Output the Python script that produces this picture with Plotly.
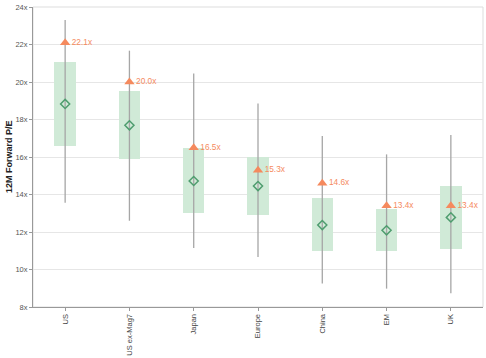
import plotly.graph_objects as go

categories = ["US", "US ex-Mag7", "Japan", "Europe", "China", "EM", "UK"]
whisker_low = [13.56, 12.6, 11.15, 10.67, 9.26, 8.98, 8.73]
box_low = [16.6, 15.91, 13.01, 12.91, 11.0, 10.99, 11.09]
median = [18.83, 17.69, 14.72, 14.45, 12.37, 12.09, 12.78]
box_high = [21.07, 19.52, 16.46, 16.02, 13.8, 13.21, 14.45]
whisker_high = [23.31, 21.67, 20.46, 18.86, 17.12, 16.14, 17.17]
current = [22.1, 20.0, 16.5, 15.3, 14.6, 13.4, 13.4]
current_labels = ["22.1x", "20.0x", "16.5x", "15.3x", "14.6x", "13.4x", "13.4x"]
y_ticks = [8, 10, 12, 14, 16, 18, 20, 22, 24]

FONT = "Liberation Sans, Arial, sans-serif"
ORANGE = "#f58a5e"
GREEN = "#4f9d6f"
BOXFILL = "#d0ead7"

fig = go.Figure()

# whiskers
wx, wy = [], []
for c, lo, hi in zip(categories, whisker_low, whisker_high):
    wx += [c, c, None]
    wy += [lo, hi, None]
fig.add_trace(go.Scatter(x=wx, y=wy, mode="lines",
                         line=dict(color="#a6a6a6", width=1.3),
                         hoverinfo="skip", showlegend=False))

# boxes
fig.add_trace(go.Bar(x=categories,
                     y=[h - l for h, l in zip(box_high, box_low)],
                     base=box_low, width=0.335,
                     marker=dict(color=BOXFILL, line=dict(width=0)),
                     showlegend=False))

# median / average diamonds
fig.add_trace(go.Scatter(x=categories, y=median, mode="markers",
                         marker=dict(symbol="diamond-open", size=7,
                                     color=GREEN, line=dict(width=1.5, color=GREEN)),
                         showlegend=False))

# current triangles with labels
fig.add_trace(go.Scatter(x=categories, y=current, mode="markers+text",
                         text=current_labels, textposition="middle right",
                         textfont=dict(color=ORANGE, size=8.3, family=FONT),
                         marker=dict(symbol="triangle-up", size=9, color=ORANGE),
                         showlegend=False, cliponaxis=False))

fig.update_layout(
    width=486, height=358,
    margin=dict(l=33, r=3, t=7, b=51, autoexpand=False),
    plot_bgcolor="white", paper_bgcolor="white",
    font=dict(family=FONT, size=8, color="#555"),
    bargap=0,
    shapes=[dict(type="rect", xref="paper", yref="paper", x0=0, x1=1, y0=0, y1=1,
                 line=dict(color="#dddddd", width=1), layer="below")],
    annotations=[dict(text="<b>12M Forward P/E</b>", textangle=-90,
                      xref="paper", yref="paper", x=0, y=0.5,
                      xanchor="center", yanchor="middle", xshift=-24,
                      showarrow=False,
                      font=dict(size=9, color="#222", family=FONT))],
)
fig.update_xaxes(type="category", showgrid=False, showline=True, automargin=False,
                 range=[-0.5, 6.5],
                 linecolor="#999", linewidth=1, ticks="outside", ticklen=3,
                 tickcolor="#999", tickangle=-90,
                 tickfont=dict(size=7.5, color="#444", family=FONT))
fig.update_yaxes(range=[8, 24], tickvals=y_ticks, automargin=False,
                 ticktext=[f"{v}x" for v in y_ticks],
                 showgrid=True, gridcolor="#e6e6e6", gridwidth=1,
                 showline=True, linecolor="#999", linewidth=1,
                 ticks="outside", ticklen=3, tickcolor="#999",
                 zeroline=False,
                 tickfont=dict(size=7.5, color="#555", family=FONT))

fig.write_html("out.html", config={"displayModeBar": False},
               post_script="document.body.style.margin='0';document.body.style.overflow='hidden';")
